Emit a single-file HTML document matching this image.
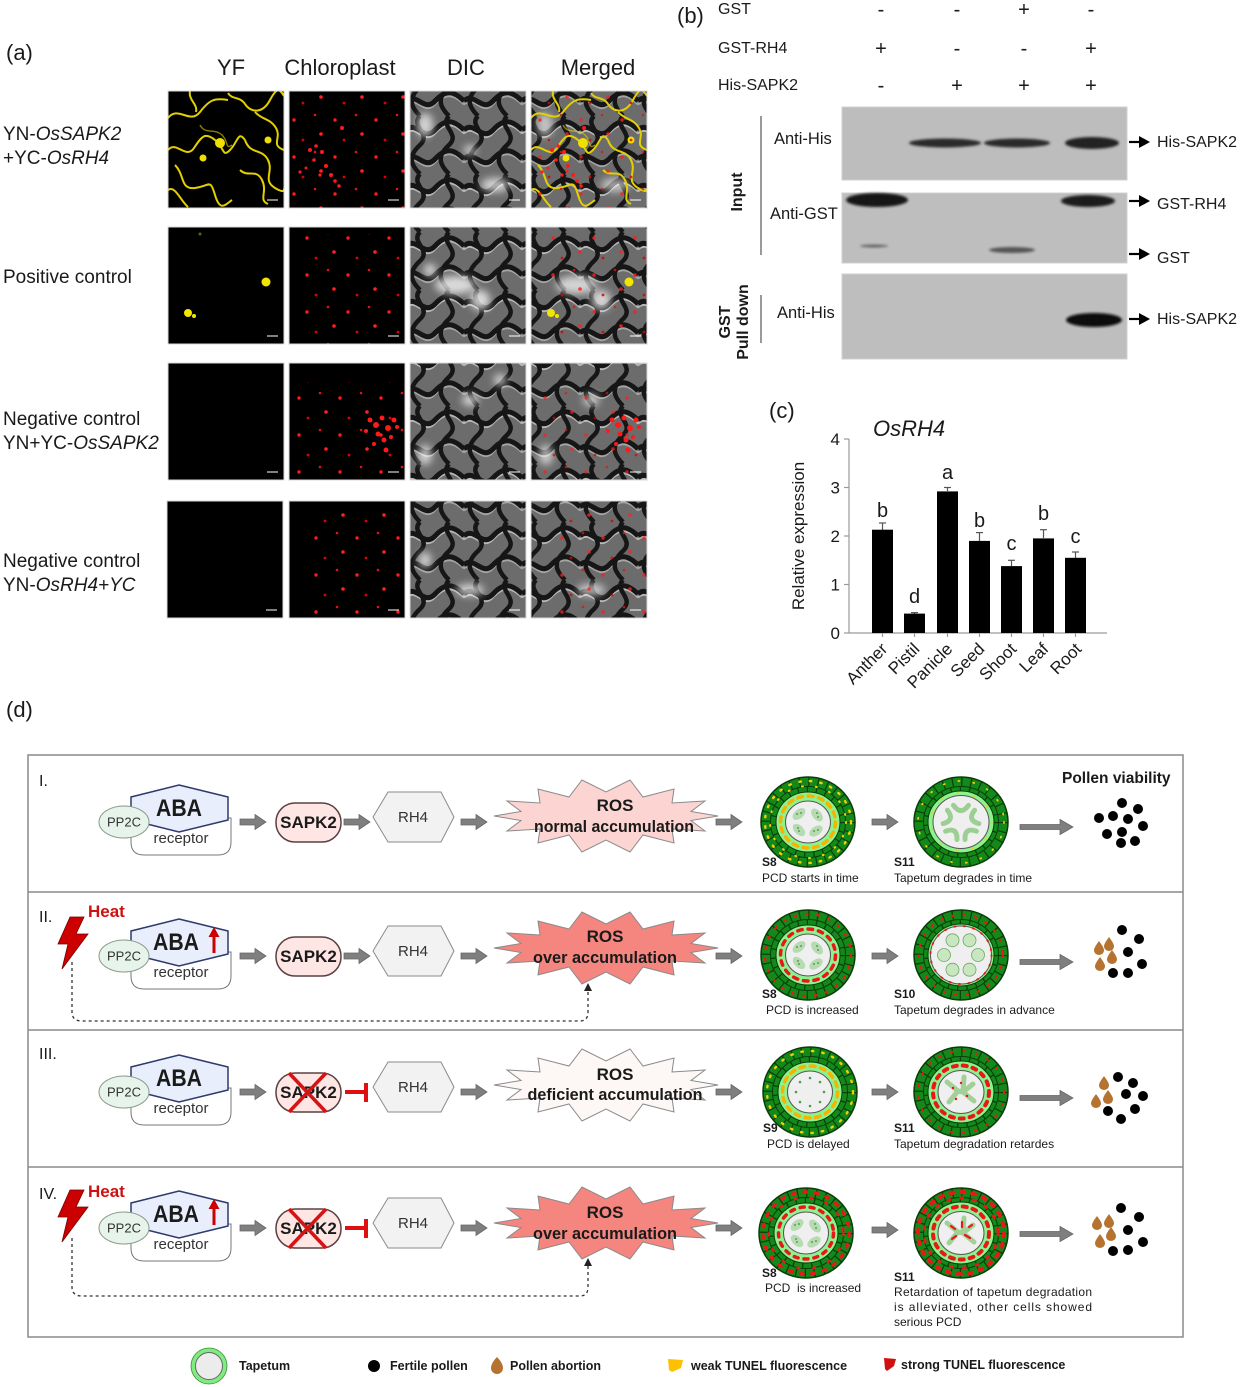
<!DOCTYPE html>
<html><head><meta charset="utf-8">
<style>
html,body{margin:0;padding:0;background:#fff;}
svg{display:block;}
text{font-family:"Liberation Sans",Arial,sans-serif;fill:#1a1a1a;}
.b{font-weight:bold;}
</style></head>
<body>
<svg width="1240" height="1387" viewBox="0 0 1240 1387" xmlns="http://www.w3.org/2000/svg">
<defs>
  <pattern id="dic" width="58" height="58" patternUnits="userSpaceOnUse">
    <rect width="58" height="58" fill="#6c6c6c"/>
    <path d="M0 14 C10 4,18 26,29 14 S48 4,58 14" stroke="#b8b8b8" stroke-width="2" fill="none" transform="translate(0,3.5)"/>
    <path d="M0 43 C10 33,18 55,29 43 S48 33,58 43" stroke="#a5a5a5" stroke-width="2" fill="none" transform="translate(0,3.5)"/>
    <path d="M0 14 C10 4,18 26,29 14 S48 4,58 14" stroke="#161616" stroke-width="5" fill="none"/>
    <path d="M0 43 C10 33,18 55,29 43 S48 33,58 43" stroke="#161616" stroke-width="5" fill="none"/>
    <path d="M14 0 C4 10,26 18,14 29 S4 48,14 58" stroke="#161616" stroke-width="4.5" fill="none"/>
    <path d="M43 0 C33 10,55 18,43 29 S33 48,43 58" stroke="#161616" stroke-width="4.5" fill="none"/>
  </pattern>
  <pattern id="chl" width="41" height="37" patternUnits="userSpaceOnUse">
    <circle cx="7" cy="9" r="1.7" fill="#ff1a1a"/>
    <circle cx="28" cy="4" r="1.3" fill="#e81010"/>
    <circle cx="34" cy="23" r="1.8" fill="#ff2020"/>
    <circle cx="16" cy="29" r="1.4" fill="#dd0000"/>
  </pattern>
  <filter id="bl" x="-20%" y="-50%" width="140%" height="200%"><feGaussianBlur stdDeviation="1.4"/></filter>
  <filter id="bl3" x="-50%" y="-50%" width="200%" height="200%"><feGaussianBlur stdDeviation="4"/></filter>
  <g id="yel" fill="none" stroke="#e3d000" stroke-width="2">
    <path d="M168,118 C178,105 190,125 200,112 S215,98 228,100"/>
    <path d="M228,93 C232,100 240,96 245,104 S262,115 270,100 S280,90 284,96"/>
    <path d="M190,91 C188,100 198,104 196,112"/>
    <path d="M168,150 C176,140 186,160 194,148 S205,132 215,140 S222,158 230,150 S238,130 245,140"/>
    <path d="M245,140 C250,155 262,148 268,160 S262,180 275,188 S284,185 284,190"/>
    <path d="M175,165 C185,175 180,190 195,188 S210,178 215,195 S225,205 232,200"/>
    <path d="M240,170 C248,178 256,168 262,180 S258,200 268,204"/>
    <path d="M168,190 C175,185 180,200 188,207"/>
    <path d="M200,125 C205,135 215,128 222,135 S225,150 232,145" stroke-width="1.4" opacity=".6"/>
    <path d="M255,112 C262,120 270,118 276,128 S270,145 284,150"/>
    <circle cx="220" cy="143" r="5" fill="#f0e000" stroke="none"/>
    <circle cx="203" cy="158" r="3.5" fill="#f0e000" stroke="none"/>
    <circle cx="268" cy="140" r="3.5" fill="#f0e000" stroke="none"/>
  </g>
  <g id="cl1" fill="#ff1a1a">
    <circle cx="310" cy="150" r="2"/><circle cx="316" cy="146" r="1.8"/><circle cx="322" cy="152" r="2"/>
    <circle cx="314" cy="160" r="1.8"/><circle cx="326" cy="166" r="2"/><circle cx="331" cy="175" r="2"/>
    <circle cx="335" cy="181" r="1.8"/><circle cx="320" cy="175" r="1.6"/><circle cx="339" cy="186" r="1.8"/>
    <circle cx="306" cy="168" r="1.5"/><circle cx="342" cy="128" r="2"/><circle cx="300" cy="172" r="1.6"/>
  </g>
  <g id="cl3" fill="#ff1a1a">
    <circle cx="370" cy="420" r="2.5"/><circle cx="376" cy="425" r="3"/><circle cx="382" cy="418" r="2.5"/>
    <circle cx="388" cy="428" r="3"/><circle cx="394" cy="420" r="2.5"/><circle cx="397" cy="427" r="2"/>
    <circle cx="378" cy="434" r="2.5"/><circle cx="384" cy="440" r="2.5"/><circle cx="374" cy="444" r="2"/>
    <circle cx="386" cy="450" r="2.5"/><circle cx="391" cy="437" r="2"/><circle cx="366" cy="431" r="2"/>
  </g>
  <path id="arr" d="M0,-3 H15 V-7.5 L26,0 L15,7.5 V3 H0 Z" fill="#7f7f7f" stroke="#666" stroke-width=".8"/>
  <path id="larr" d="M0,-2.5 H40 V-7.5 L53,0 L40,7.5 V2.5 H0 Z" fill="#7f7f7f" stroke="#666" stroke-width=".8"/>
  <polygon id="star" points="112,0 85,4.5 99,15 66,13 68,27 37,19 24,36 0,24 -24,36 -37,19 -68,27 -66,13 -99,15 -85,4.5 -112,0 -85,-4.5 -99,-15 -66,-13 -68,-27 -37,-19 -24,-36 0,-24 24,-36 37,-19 68,-27 66,-13 99,-15 85,-4.5" stroke="#8a8a8a" stroke-width="1"/>
  <g id="anthOuter">
    <ellipse rx="47" ry="45" fill="#13891a"/>
    <ellipse rx="42" ry="40" fill="none" stroke="#0a3d0a" stroke-width="9" stroke-dasharray="1.2 8"/>
    <ellipse rx="37.5" ry="35.5" fill="none" stroke="#0a3d0a" stroke-width="1"/>
    <ellipse rx="34.5" ry="32.5" fill="none" stroke="#0a3d0a" stroke-width="5" stroke-dasharray="1.2 8"/>
    <ellipse rx="47" ry="45" fill="none" stroke="#0a3d0a" stroke-width="1.5"/>
  </g>
  <g id="spores">
    <ellipse cx="-9" cy="-8" rx="7.5" ry="4.5" transform="rotate(-40 -9 -8)" fill="#b7dbb1"/>
    <ellipse cx="9" cy="-7" rx="7.5" ry="4.5" transform="rotate(50 9 -7)" fill="#b7dbb1"/>
    <ellipse cx="8" cy="9" rx="7.5" ry="4.5" transform="rotate(-35 8 9)" fill="#b7dbb1"/>
    <ellipse cx="-9" cy="8" rx="7.5" ry="4.5" transform="rotate(45 -9 8)" fill="#b7dbb1"/>
    <g fill="#3f8a3f"><circle cx="-11" cy="-8" r=".9"/><circle cx="-7" cy="-9" r=".9"/><circle cx="9" cy="-9" r=".9"/><circle cx="10" cy="-5" r=".9"/><circle cx="6" cy="9" r=".9"/><circle cx="10" cy="8" r=".9"/><circle cx="-9" cy="9" r=".9"/><circle cx="-10" cy="6" r=".9"/></g>
  </g>
  <path id="brown" d="M0,-7 C3,-3 5,0 5,2.5 A5,4.5 0 0 1 -5,2.5 C-5,0 -3,-3 0,-7Z" fill="#b5732f"/>
</defs>

<!-- ================= PANEL A ================= -->
<text x="6" y="60" font-size="22">(a)</text>
<text x="231" y="75" font-size="22" text-anchor="middle">YF</text>
<text x="340" y="75" font-size="22" text-anchor="middle">Chloroplast</text>
<text x="466" y="75" font-size="22" text-anchor="middle">DIC</text>
<text x="598" y="75" font-size="22" text-anchor="middle">Merged</text>

<text x="3" y="140" font-size="19">YN-<tspan font-style="italic">OsSAPK2</tspan></text>
<text x="3" y="164" font-size="19">+YC-<tspan font-style="italic">OsRH4</tspan></text>
<text x="3" y="283" font-size="19">Positive control</text>
<text x="3" y="425" font-size="19">Negative control</text>
<text x="3" y="449" font-size="19">YN+YC-<tspan font-style="italic">OsSAPK2</tspan></text>
<text x="3" y="567" font-size="19">Negative control</text>
<text x="3" y="591" font-size="19">YN-<tspan font-style="italic">OsRH4+YC</tspan></text>

<!-- row 1 -->
<svg x="168" y="91" width="116" height="117"><g transform="translate(-168,-91)">
  <rect x="168" y="91" width="116" height="117" fill="#000"/>
  <use href="#yel"/>
</g></svg>
<svg x="289" y="91" width="116" height="117"><g transform="translate(-289,-91)">
  <rect x="289" y="91" width="116" height="117" fill="#000"/>
  <rect x="289" y="91" width="116" height="117" fill="url(#chl)"/>
  <use href="#cl1"/>
</g></svg>
<svg x="410" y="91" width="116" height="117"><g transform="translate(-410,-91)">
  <rect x="410" y="91" width="116" height="117" fill="url(#dic)"/>
  <g filter="url(#bl3)" fill="#fff" opacity=".7"><ellipse cx="425" cy="125" rx="8" ry="12"/><ellipse cx="495" cy="185" rx="14" ry="7"/><ellipse cx="470" cy="150" rx="6" ry="5"/></g>
</g></svg>
<svg x="531" y="91" width="116" height="117"><g transform="translate(-531,-91)">
  <rect x="531" y="91" width="116" height="117" fill="url(#dic)"/>
  <g filter="url(#bl3)" fill="#fff" opacity=".6"><ellipse cx="545" cy="125" rx="8" ry="12"/><ellipse cx="615" cy="185" rx="14" ry="7"/></g>
  <g transform="translate(363,0)"><use href="#yel"/></g>
  <g transform="translate(242,0)"><use href="#cl1"/></g>
  <rect x="531" y="91" width="116" height="117" fill="url(#chl)" opacity=".8"/>
</g></svg>

<!-- row 2 -->
<svg x="168" y="227" width="116" height="117"><g transform="translate(-168,-227)">
  <rect x="168" y="227" width="116" height="117" fill="#000"/>
  <circle cx="266" cy="282" r="4.5" fill="#f2e600"/>
  <circle cx="188" cy="313" r="4" fill="#f2e600"/>
  <circle cx="194" cy="316" r="2" fill="#f2e600"/>
  <circle cx="200" cy="234" r="1.5" fill="#6a6200"/>
</g></svg>
<svg x="289" y="227" width="116" height="117"><g transform="translate(-289,-227)">
  <rect x="289" y="227" width="116" height="117" fill="#000"/>
  <rect x="289" y="227" width="116" height="117" fill="url(#chl)" transform="translate(13,7)"/>
</g></svg>
<svg x="410" y="227" width="116" height="117"><g transform="translate(-410,-227)">
  <rect x="410" y="227" width="116" height="117" fill="url(#dic)"/>
  <g filter="url(#bl3)" fill="#fff" opacity=".75"><ellipse cx="455" cy="285" rx="20" ry="9"/><ellipse cx="480" cy="300" rx="10" ry="10"/><ellipse cx="430" cy="270" rx="6" ry="6"/></g>
</g></svg>
<svg x="531" y="227" width="116" height="117"><g transform="translate(-531,-227)">
  <rect x="531" y="227" width="116" height="117" fill="url(#dic)"/>
  <g filter="url(#bl3)" fill="#fff" opacity=".7"><ellipse cx="576" cy="285" rx="20" ry="9"/><ellipse cx="601" cy="300" rx="10" ry="10"/></g>
  <rect x="531" y="227" width="116" height="117" fill="url(#chl)" transform="translate(13,7)" opacity=".85"/>
  <circle cx="629" cy="282" r="4.5" fill="#f2e600"/>
  <circle cx="551" cy="313" r="4" fill="#f2e600"/>
  <circle cx="557" cy="316" r="2" fill="#f2e600"/>
</g></svg>

<!-- row 3 -->
<rect x="168" y="363" width="116" height="117" fill="#000"/>
<svg x="289" y="363" width="116" height="117"><g transform="translate(-289,-363)">
  <rect x="289" y="363" width="116" height="117" fill="#000"/>
  <rect x="289" y="363" width="116" height="117" fill="url(#chl)" transform="translate(5,19)"/>
  <use href="#cl3"/>
</g></svg>
<svg x="410" y="363" width="116" height="117"><g transform="translate(-410,-363)">
  <rect x="410" y="363" width="116" height="117" fill="url(#dic)"/>
  <g filter="url(#bl3)" fill="#fff" opacity=".7"><ellipse cx="425" cy="455" rx="7" ry="10"/><ellipse cx="470" cy="400" rx="8" ry="6"/><ellipse cx="500" cy="380" rx="6" ry="6"/></g>
</g></svg>
<svg x="531" y="363" width="116" height="117"><g transform="translate(-531,-363)">
  <rect x="531" y="363" width="116" height="117" fill="url(#dic)"/>
  <g filter="url(#bl3)" fill="#fff" opacity=".65"><ellipse cx="546" cy="455" rx="7" ry="10"/><ellipse cx="591" cy="400" rx="8" ry="6"/></g>
  <rect x="531" y="363" width="116" height="117" fill="url(#chl)" transform="translate(5,19)" opacity=".7"/>
  <g transform="translate(242,0)"><use href="#cl3"/></g>
</g></svg>

<!-- row 4 -->
<rect x="167" y="501" width="116" height="117" fill="#000"/>
<svg x="289" y="501" width="116" height="117"><g transform="translate(-289,-501)">
  <rect x="289" y="501" width="116" height="117" fill="#000"/>
  <rect x="289" y="501" width="116" height="117" fill="url(#chl)" transform="translate(22,11)"/>
</g></svg>
<svg x="410" y="501" width="116" height="117"><g transform="translate(-410,-501)">
  <rect x="410" y="501" width="116" height="117" fill="url(#dic)"/>
  <g filter="url(#bl3)" fill="#fff" opacity=".7"><ellipse cx="470" cy="590" rx="14" ry="6"/><ellipse cx="425" cy="560" rx="6" ry="8"/></g>
</g></svg>
<svg x="531" y="501" width="116" height="117"><g transform="translate(-531,-501)">
  <rect x="531" y="501" width="116" height="117" fill="url(#dic)"/>
  <g filter="url(#bl3)" fill="#fff" opacity=".65"><ellipse cx="591" cy="590" rx="14" ry="6"/></g>
  <rect x="531" y="501" width="116" height="117" fill="url(#chl)" transform="translate(22,11)" opacity=".8"/>
</g></svg>

<g stroke="#d8d8d8" stroke-width="1" fill="none">
  <rect x="168" y="91" width="116" height="117"/><rect x="289" y="91" width="116" height="117"/><rect x="410" y="91" width="116" height="117"/><rect x="531" y="91" width="116" height="117"/>
  <rect x="168" y="227" width="116" height="117"/><rect x="289" y="227" width="116" height="117"/><rect x="410" y="227" width="116" height="117"/><rect x="531" y="227" width="116" height="117"/>
  <rect x="168" y="363" width="116" height="117"/><rect x="289" y="363" width="116" height="117"/><rect x="410" y="363" width="116" height="117"/><rect x="531" y="363" width="116" height="117"/>
  <rect x="167" y="501" width="116" height="117"/><rect x="289" y="501" width="116" height="117"/><rect x="410" y="501" width="116" height="117"/><rect x="531" y="501" width="116" height="117"/>
</g>
<g stroke="#fff" stroke-width="1">
  <line x1="267" y1="200" x2="278" y2="200"/><line x1="388" y1="200" x2="399" y2="200"/><line x1="509" y1="200" x2="520" y2="200"/><line x1="630" y1="200" x2="641" y2="200"/>
  <line x1="267" y1="336" x2="278" y2="336"/><line x1="388" y1="336" x2="399" y2="336"/><line x1="509" y1="336" x2="520" y2="336"/><line x1="630" y1="336" x2="641" y2="336"/>
  <line x1="267" y1="472" x2="278" y2="472"/><line x1="388" y1="472" x2="399" y2="472"/><line x1="509" y1="472" x2="520" y2="472"/><line x1="630" y1="472" x2="641" y2="472"/>
  <line x1="266" y1="610" x2="277" y2="610"/><line x1="388" y1="610" x2="399" y2="610"/><line x1="509" y1="610" x2="520" y2="610"/><line x1="630" y1="610" x2="641" y2="610"/>
</g>

<!-- ================= PANEL B ================= -->
<text x="677" y="23" font-size="22">(b)</text>
<text x="718" y="14" font-size="16">GST</text>
<text x="718" y="53" font-size="16">GST-RH4</text>
<text x="718" y="90" font-size="16">His-SAPK2</text>
<g font-size="20" text-anchor="middle">
  <text x="881" y="16">-</text><text x="957" y="16">-</text><text x="1024" y="16">+</text><text x="1091" y="16">-</text>
  <text x="881" y="55">+</text><text x="957" y="55">-</text><text x="1024" y="55">-</text><text x="1091" y="55">+</text>
  <text x="881" y="92">-</text><text x="957" y="92">+</text><text x="1024" y="92">+</text><text x="1091" y="92">+</text>
</g>
<rect x="842" y="107" width="285" height="73" fill="#bdbdbd" stroke="#d0d0d0"/>
<rect x="842" y="193" width="285" height="70" fill="#bebebe" stroke="#d0d0d0"/>
<rect x="842" y="274" width="285" height="85" fill="#bebebe" stroke="#d0d0d0"/>
<g filter="url(#bl)">
  <ellipse cx="945" cy="143" rx="36" ry="4.5" fill="#2a2a2a"/>
  <ellipse cx="1017" cy="143" rx="33" ry="4.5" fill="#2a2a2a"/>
  <ellipse cx="1092" cy="143" rx="27" ry="6" fill="#222"/>
  <ellipse cx="877" cy="200" rx="31" ry="7" fill="#151515"/>
  <ellipse cx="1088" cy="201" rx="27" ry="6" fill="#1a1a1a"/>
  <ellipse cx="1012" cy="250" rx="23" ry="3" fill="#555"/>
  <ellipse cx="874" cy="246" rx="14" ry="1.5" fill="#666"/>
  <ellipse cx="1094" cy="320" rx="28" ry="7" fill="#111"/>
</g>
<line x1="761" y1="116" x2="761" y2="255" stroke="#333" stroke-width="1"/>
<line x1="761" y1="295" x2="761" y2="343" stroke="#333" stroke-width="1"/>
<text class="b" font-size="16" text-anchor="middle" transform="translate(742,192) rotate(-90)">Input</text>
<text class="b" font-size="16" text-anchor="middle" transform="translate(730,322) rotate(-90)">GST</text>
<text class="b" font-size="16" text-anchor="middle" transform="translate(748,322) rotate(-90)">Pull down</text>
<text x="774" y="144" font-size="16.5">Anti-His</text>
<text x="770" y="219" font-size="16.5">Anti-GST</text>
<text x="777" y="318" font-size="16.5">Anti-His</text>
<g stroke="#000" stroke-width="2.2"><line x1="1129" y1="142" x2="1142" y2="142"/><line x1="1129" y1="201" x2="1142" y2="201"/><line x1="1129" y1="254" x2="1142" y2="254"/><line x1="1129" y1="319" x2="1142" y2="319"/></g>
<g fill="#000"><polygon points="1139,136 1150,142 1139,148"/><polygon points="1139,195 1150,201 1139,207"/><polygon points="1139,248 1150,254 1139,260"/><polygon points="1139,313 1150,319 1139,325"/></g>
<text x="1157" y="147" font-size="16">His-SAPK2</text>
<text x="1157" y="209" font-size="16">GST-RH4</text>
<text x="1157" y="263" font-size="16">GST</text>
<text x="1157" y="324" font-size="16">His-SAPK2</text>

<!-- ================= PANEL C ================= -->
<text x="769" y="418" font-size="22">(c)</text>
<text x="873" y="436" font-size="22" font-style="italic">OsRH4</text>
<text font-size="17" text-anchor="middle" transform="translate(804,536) rotate(-90)">Relative expression</text>
<g font-size="17" text-anchor="end">
  <text x="840" y="445">4</text><text x="840" y="493.5">3</text><text x="840" y="542">2</text><text x="840" y="590.5">1</text><text x="840" y="639">0</text>
</g>
<g stroke="#9a9a9a" stroke-width="1.2">
  <line x1="849" y1="439" x2="849" y2="633"/>
  <line x1="849" y1="633" x2="1107" y2="633"/>
  <line x1="844" y1="439" x2="849" y2="439"/><line x1="844" y1="487.5" x2="849" y2="487.5"/><line x1="844" y1="536" x2="849" y2="536"/><line x1="844" y1="584.5" x2="849" y2="584.5"/><line x1="844" y1="633" x2="849" y2="633"/>
  <line x1="882.5" y1="633" x2="882.5" y2="637"/><line x1="914.5" y1="633" x2="914.5" y2="637"/><line x1="947.5" y1="633" x2="947.5" y2="637"/><line x1="979.5" y1="633" x2="979.5" y2="637"/><line x1="1011.5" y1="633" x2="1011.5" y2="637"/><line x1="1043.5" y1="633" x2="1043.5" y2="637"/><line x1="1075.5" y1="633" x2="1075.5" y2="637"/>
</g>
<g stroke="#555" stroke-width="1.2">
  <line x1="882.5" y1="530" x2="882.5" y2="523"/><line x1="879" y1="523" x2="886" y2="523"/>
  <line x1="914.5" y1="614" x2="914.5" y2="612.6"/><line x1="911" y1="612.6" x2="918" y2="612.6"/>
  <line x1="947.5" y1="491" x2="947.5" y2="487.5"/><line x1="944" y1="487.5" x2="951" y2="487.5"/>
  <line x1="979.5" y1="541" x2="979.5" y2="532.6"/><line x1="976" y1="532.6" x2="983" y2="532.6"/>
  <line x1="1011.5" y1="566" x2="1011.5" y2="560.3"/><line x1="1008" y1="560.3" x2="1015" y2="560.3"/>
  <line x1="1043.5" y1="538" x2="1043.5" y2="529.7"/><line x1="1040" y1="529.7" x2="1047" y2="529.7"/>
  <line x1="1075.5" y1="558" x2="1075.5" y2="552"/><line x1="1072" y1="552" x2="1079" y2="552"/>
</g>
<g fill="#000">
  <rect x="872" y="529.7" width="21" height="103.3"/>
  <rect x="904" y="613.6" width="21" height="19.4"/>
  <rect x="937" y="491.4" width="21" height="141.6"/>
  <rect x="969" y="540.9" width="21" height="92.1"/>
  <rect x="1001" y="566.1" width="21" height="66.9"/>
  <rect x="1033" y="538.4" width="21" height="94.6"/>
  <rect x="1065" y="557.8" width="21" height="75.2"/>
</g>
<g font-size="20" text-anchor="middle">
  <text x="882.5" y="517">b</text><text x="914.5" y="603">d</text><text x="947.5" y="479">a</text><text x="979.5" y="527">b</text><text x="1011.5" y="550">c</text><text x="1043.5" y="520">b</text><text x="1075.5" y="543">c</text>
</g>
<g font-size="17" text-anchor="end">
  <text transform="translate(888.5,650) rotate(-45)">Anther</text>
  <text transform="translate(920.5,650) rotate(-45)">Pistil</text>
  <text transform="translate(953.5,650) rotate(-45)">Panicle</text>
  <text transform="translate(985.5,650) rotate(-45)">Seed</text>
  <text transform="translate(1017.5,650) rotate(-45)">Shoot</text>
  <text transform="translate(1049.5,650) rotate(-45)">Leaf</text>
  <text transform="translate(1082.5,650) rotate(-45)">Root</text>
</g>

<!-- ================= PANEL D ================= -->
<text x="6" y="717" font-size="22">(d)</text>
<rect x="28" y="755" width="1155" height="582" fill="none" stroke="#8a8a8a" stroke-width="1.5"/>
<g stroke="#8a8a8a" stroke-width="1.5"><line x1="28" y1="892" x2="1183" y2="892"/><line x1="28" y1="1030" x2="1183" y2="1030"/><line x1="28" y1="1167" x2="1183" y2="1167"/></g>

<text x="39" y="786" font-size="16">I.</text>
<text x="39" y="922" font-size="16">II.</text>
<text x="39" y="1059" font-size="16">III.</text>
<text x="39" y="1199" font-size="16">IV.</text>
<text x="1062" y="783" font-size="15.5" class="b">Pollen viability</text>

<!-- heat -->
<text x="88" y="917" font-size="17" class="b" style="fill:#cc1111">Heat</text>
<text x="88" y="1197" font-size="17" class="b" style="fill:#cc1111">Heat</text>
<polygon points="70,917 84,917 76,934 88,934 62,969 68,944 58,944" fill="#cc0000" stroke="#7a0000" stroke-width=".8"/>
<polygon points="70,1190 84,1190 76,1207 88,1207 62,1242 68,1217 58,1217" fill="#cc0000" stroke="#7a0000" stroke-width=".8"/>
<g fill="none" stroke="#333" stroke-width="1.3" stroke-dasharray="3 3">
  <path d="M72,962 V1012 Q72,1021 82,1021 H580 Q588,1021 588,1012 V990"/>
  <path d="M72,1238 V1287 Q72,1296 82,1296 H580 Q588,1296 588,1287 V1265"/>
</g>
<polygon points="584,991 592,991 588,983" fill="#222"/>
<polygon points="584,1266 592,1266 588,1258" fill="#222"/>

<!-- four pathway rows -->
<g id="rowI">
  <path d="M131,818 H231 V842 Q231,855 218,855 H144 Q131,855 131,842 Z" fill="#fff" stroke="#777" stroke-width="1"/>
  <polygon points="179,785 228,797 228,820 179,832 131,820 131,797" fill="#e8eefc" stroke="#2e3a6e" stroke-width="1.5"/>
  <text x="181" y="843" font-size="15" text-anchor="middle" style="fill:#333">receptor</text>
  <ellipse cx="124" cy="822" rx="25" ry="16" fill="#e6f4ec" stroke="#8a9a8a" stroke-width="1"/>
  <text x="124" y="826.5" font-size="13" text-anchor="middle" style="fill:#333">PP2C</text>
  <use href="#arr" x="240" y="822"/>
  <rect x="276" y="803" width="65" height="39" rx="19" fill="#fde6e3" stroke="#5a4040" stroke-width="1.5"/>
  <use href="#arr" x="344" y="822"/>
  <polygon points="373,817 388,792 441,792 454,817 441,842 388,842" fill="#f2f2f2" stroke="#8a8a8a" stroke-width="1"/>
  <text x="413" y="822" font-size="15" text-anchor="middle" style="fill:#333">RH4</text>
  <use href="#arr" x="461" y="822"/>
  <use href="#arr" x="716" y="822"/>
</g>
<g transform="translate(0,134)"><use href="#rowI"/></g>
<g transform="translate(0,270)"><use href="#rowI"/></g>
<g transform="translate(0,406)"><use href="#rowI"/></g>

<!-- ABA texts -->
<text x="179" y="816" font-size="24" class="b" text-anchor="middle" textLength="46" lengthAdjust="spacingAndGlyphs">ABA</text>
<text x="176" y="950" font-size="24" class="b" text-anchor="middle" textLength="46" lengthAdjust="spacingAndGlyphs">ABA</text>
<text x="179" y="1086" font-size="24" class="b" text-anchor="middle" textLength="46" lengthAdjust="spacingAndGlyphs">ABA</text>
<text x="176" y="1222" font-size="24" class="b" text-anchor="middle" textLength="46" lengthAdjust="spacingAndGlyphs">ABA</text>
<g stroke="#cc0000" stroke-width="3"><line x1="214" y1="953" x2="214" y2="935"/><line x1="214" y1="1225" x2="214" y2="1207"/></g>
<polygon points="208.5,937 219.5,937 214,927" fill="#cc0000"/>
<polygon points="208.5,1209 219.5,1209 214,1199" fill="#cc0000"/>

<!-- SAPK2 texts -->
<text x="308.5" y="828" font-size="17" class="b" text-anchor="middle">SAPK2</text>
<text x="308.5" y="962" font-size="17" class="b" text-anchor="middle">SAPK2</text>
<text x="308.5" y="1098" font-size="17" class="b" text-anchor="middle">SAPK2</text>
<text x="308.5" y="1234" font-size="17" class="b" text-anchor="middle">SAPK2</text>
<rect x="342" y="1082" width="30" height="22" fill="#fff"/>
<rect x="342" y="1218" width="30" height="22" fill="#fff"/>
<g stroke="#d41414" stroke-width="3.5">
  <line x1="289" y1="1073" x2="326" y2="1112"/><line x1="326" y1="1073" x2="289" y2="1112"/>
  <line x1="289" y1="1209" x2="326" y2="1248"/><line x1="326" y1="1209" x2="289" y2="1248"/>
</g>
<g stroke="#e01010" stroke-width="4">
  <line x1="345" y1="1092" x2="366" y2="1092"/><line x1="366" y1="1083" x2="366" y2="1102"/>
  <line x1="345" y1="1228" x2="366" y2="1228"/><line x1="366" y1="1219" x2="366" y2="1238"/>
</g>

<!-- ROS stars -->
<use href="#star" x="606" y="816" fill="#fcd5d3"/>
<use href="#star" x="606" y="948" fill="#f4857f"/>
<use href="#star" x="606" y="1085" fill="#fdf7f5"/>
<use href="#star" x="606" y="1223" fill="#f4857f"/>
<g class="b" font-size="17" text-anchor="middle">
  <text x="615" y="811" class="b">ROS</text>
  <text x="614" y="832" class="b" textLength="160" lengthAdjust="spacingAndGlyphs">normal accumulation</text>
  <text x="605" y="942" class="b">ROS</text>
  <text x="605" y="963" class="b" textLength="144" lengthAdjust="spacingAndGlyphs">over accumulation</text>
  <text x="615" y="1080" class="b">ROS</text>
  <text x="615" y="1100" class="b" textLength="175" lengthAdjust="spacingAndGlyphs">deficient accumulation</text>
  <text x="605" y="1218" class="b">ROS</text>
  <text x="605" y="1239" class="b" textLength="144" lengthAdjust="spacingAndGlyphs">over accumulation</text>
</g>

<!-- anther arrows -->
<use href="#arr" x="872" y="822"/>
<use href="#arr" x="872" y="956"/>
<use href="#arr" x="872" y="1092"/>
<use href="#arr" x="872" y="1230"/>
<use href="#larr" x="1020" y="827"/>
<use href="#larr" x="1020" y="962"/>
<use href="#larr" x="1020" y="1098"/>
<use href="#larr" x="1020" y="1234"/>

<!-- Anthers row I -->
<g transform="translate(808,822)">
  <use href="#anthOuter"/>
  <ellipse rx="43" ry="41" fill="none" stroke="#f2cf00" stroke-width="2.4" stroke-dasharray="1.5 9" stroke-linecap="round"/>
  <ellipse rx="38" ry="36" fill="none" stroke="#f2cf00" stroke-width="2" stroke-dasharray="1 13" stroke-linecap="round"/>
  <ellipse rx="32" ry="30" fill="#8ef28e" stroke="#0a3d0a" stroke-width="1"/>
  <ellipse rx="27.5" ry="26" fill="none" stroke="#f5b400" stroke-width="3.5" stroke-dasharray="5 5.5" stroke-linecap="round"/>
  <ellipse rx="22.5" ry="21" fill="#efefef" stroke="#555" stroke-width="1"/>
  <use href="#spores"/>
</g>
<g transform="translate(961,822)">
  <use href="#anthOuter"/>
  <ellipse rx="43" ry="41" fill="none" stroke="#f2cf00" stroke-width="1.8" stroke-dasharray="1 14" stroke-linecap="round"/>
  <ellipse rx="33" ry="31" fill="#8ef28e" stroke="#0a3d0a" stroke-width="1"/>
  <ellipse rx="30.5" ry="29" fill="none" stroke="#f2cf00" stroke-width="1.5" stroke-dasharray="1 16" stroke-linecap="round"/>
  <ellipse rx="28" ry="26.5" fill="#efefef" stroke="#555" stroke-width="1"/>
  <g fill="none" stroke="#9dcf94" stroke-width="5" stroke-linecap="round">
    <path d="M-7.5,-16.7 Q0,-6 7.5,-16.7"/>
    <path d="M17.9,1.6 Q5.7,-1.8 13.6,-11.8"/>
    <path d="M4,17.5 Q3.5,4.8 15.4,9.2"/>
    <path d="M-15.4,9.2 Q-3.5,4.8 -4,17.5"/>
    <path d="M-13.6,-11.8 Q-5.7,-1.8 -17.9,1.6"/>
  </g>
</g>

<!-- Anthers row II -->
<g transform="translate(808,955)">
  <use href="#anthOuter"/>
  <ellipse rx="43" ry="41" fill="none" stroke="#e81818" stroke-width="2.4" stroke-dasharray="1.5 10" stroke-linecap="round"/>
  <ellipse rx="32" ry="30" fill="#8ef28e" stroke="#0a3d0a" stroke-width="1"/>
  <ellipse rx="27.5" ry="26" fill="none" stroke="#e81818" stroke-width="3.5" stroke-dasharray="4.5 6" stroke-linecap="round"/>
  <ellipse rx="22.5" ry="21" fill="#efefef" stroke="#555" stroke-width="1"/>
  <use href="#spores"/>
</g>
<g transform="translate(961,955)">
  <use href="#anthOuter"/>
  <ellipse rx="42" ry="40" fill="none" stroke="#e81818" stroke-width="2.2" stroke-dasharray="1.5 10" stroke-linecap="round"/>
  <ellipse rx="33" ry="31" fill="#8ef28e" stroke="#0a3d0a" stroke-width="1"/>
  <ellipse rx="30.5" ry="29" fill="#efefef" stroke="#555" stroke-width="1"/>
  <ellipse rx="30.5" ry="29" fill="none" stroke="#e81818" stroke-width="1.8" stroke-dasharray="1.5 8" stroke-linecap="round"/>
  <g fill="#c8e6c0" stroke="#6ea866" stroke-width=".8">
    <circle cx="17" cy="0" r="6.5"/><circle cx="8.5" cy="14.7" r="6.5"/><circle cx="-8.5" cy="14.7" r="6.5"/>
    <circle cx="-17" cy="0" r="6.5"/><circle cx="-8.5" cy="-14.7" r="6.5"/><circle cx="8.5" cy="-14.7" r="6.5"/>
  </g>
</g>

<!-- Anthers row III -->
<g transform="translate(810,1092)">
  <use href="#anthOuter"/>
  <ellipse rx="43" ry="41" fill="none" stroke="#f2cf00" stroke-width="2.4" stroke-dasharray="1.5 9" stroke-linecap="round"/>
  <ellipse rx="32" ry="30" fill="#8ef28e" stroke="#0a3d0a" stroke-width="1"/>
  <ellipse rx="27.5" ry="26" fill="none" stroke="#f5b400" stroke-width="3.5" stroke-dasharray="5 5.5" stroke-linecap="round"/>
  <ellipse rx="22.5" ry="21" fill="#efefef" stroke="#555" stroke-width="1"/>
  <g fill="#4f9a4f"><circle cx="0" cy="-14" r="1.3"/><circle cx="10" cy="-10" r="1.3"/><circle cx="14" cy="0" r="1.3"/><circle cx="10" cy="10" r="1.3"/><circle cx="0" cy="14" r="1.3"/><circle cx="-10" cy="10" r="1.3"/><circle cx="-14" cy="0" r="1.3"/><circle cx="-10" cy="-10" r="1.3"/></g>
</g>
<g transform="translate(961,1092)">
  <use href="#anthOuter"/>
  <ellipse rx="43" ry="41" fill="none" stroke="#e81818" stroke-width="2" stroke-dasharray="1.5 11" stroke-linecap="round"/>
  <ellipse rx="33" ry="31" fill="#8ef28e" stroke="#0a3d0a" stroke-width="1"/>
  <ellipse rx="28" ry="26.5" fill="none" stroke="#e81818" stroke-width="4" stroke-dasharray="4 6" stroke-linecap="round"/>
  <ellipse rx="23" ry="21.5" fill="#efefef" stroke="#555" stroke-width="1"/>
  <g fill="none" stroke="#a2d198" stroke-width="5" stroke-linecap="round">
    <path d="M-14,-10 L-3,-1 L-12,10 M3,-15 L2,0 L13,9 M-3,-1 L2,0 M12,-8 L2,0"/>
  </g>
  <g fill="#e81818"><circle cx="-8" cy="-4" r="1.2"/><circle cx="6" cy="4" r="1.2"/><circle cx="0" cy="-9" r="1.2"/><circle cx="-5" cy="7" r="1.2"/></g>
</g>

<!-- Anthers row IV -->
<g transform="translate(806,1233)">
  <use href="#anthOuter"/>
  <ellipse rx="43" ry="41" fill="none" stroke="#e81818" stroke-width="3.5" stroke-dasharray="2.5 9" stroke-linecap="round"/>
  <ellipse rx="37.5" ry="35.5" fill="none" stroke="#e81818" stroke-width="2.5" stroke-dasharray="2 14" stroke-linecap="round"/>
  <ellipse rx="32" ry="30" fill="#8ef28e" stroke="#0a3d0a" stroke-width="1"/>
  <ellipse rx="27.5" ry="26" fill="none" stroke="#e81818" stroke-width="3.5" stroke-dasharray="4 6" stroke-linecap="round"/>
  <ellipse rx="22.5" ry="21" fill="#efefef" stroke="#555" stroke-width="1"/>
  <use href="#spores"/>
</g>
<g transform="translate(961,1233)">
  <use href="#anthOuter"/>
  <ellipse rx="43" ry="41" fill="none" stroke="#e81818" stroke-width="4" stroke-dasharray="3 8" stroke-linecap="round"/>
  <ellipse rx="37" ry="35" fill="none" stroke="#e81818" stroke-width="3" stroke-dasharray="2 11" stroke-linecap="round"/>
  <ellipse rx="33" ry="31" fill="#8ef28e" stroke="#0a3d0a" stroke-width="1"/>
  <ellipse rx="28" ry="26.5" fill="none" stroke="#e81818" stroke-width="4" stroke-dasharray="4 6" stroke-linecap="round"/>
  <ellipse rx="23" ry="21.5" fill="#efefef" stroke="#555" stroke-width="1"/>
  <g fill="none" stroke="#a2d198" stroke-width="5" stroke-linecap="round">
    <path d="M-14,-10 L-3,-1 L-12,10 M3,-15 L2,0 L13,9 M-3,-1 L2,0 M12,-8 L2,0"/>
  </g>
  <g stroke="#e81818" stroke-width="2.2" stroke-linecap="round"><line x1="-10" y1="-7" x2="-6" y2="-4"/><line x1="4" y1="2" x2="9" y2="5"/><line x1="1" y1="-11" x2="1" y2="-6"/><line x1="-9" y1="6" x2="-5" y2="3"/><line x1="8" y1="-6" x2="11" y2="-8"/></g>
</g>

<!-- captions -->
<g font-size="12">
  <text x="762" y="866" class="b">S8</text><text x="762" y="882">PCD starts in time</text>
  <text x="894" y="866" class="b">S11</text><text x="894" y="882">Tapetum degrades in time</text>
  <text x="762" y="998" class="b">S8</text><text x="766" y="1014">PCD is increased</text>
  <text x="894" y="998" class="b">S10</text><text x="894" y="1014">Tapetum degrades in advance</text>
  <text x="763" y="1132" class="b">S9</text><text x="767" y="1148">PCD is delayed</text>
  <text x="894" y="1132" class="b">S11</text><text x="894" y="1148">Tapetum degradation retardes</text>
  <text x="762" y="1277" class="b">S8</text><text x="765" y="1292" xml:space="preserve">PCD  is increased</text>
  <text x="894" y="1281" class="b">S11</text>
  <text x="894" y="1296" textLength="198" lengthAdjust="spacing">Retardation of tapetum degradation</text>
  <text x="894" y="1311" textLength="198" lengthAdjust="spacing">is alleviated, other cells showed</text>
  <text x="894" y="1326">serious PCD</text>
</g>

<!-- pollen -->
<g fill="#000">
  <circle cx="1122" cy="803" r="5"/><circle cx="1138" cy="809" r="5"/><circle cx="1099" cy="818" r="5"/><circle cx="1113" cy="816" r="5"/><circle cx="1128" cy="819" r="5"/><circle cx="1143" cy="826" r="5"/><circle cx="1107" cy="834" r="5"/><circle cx="1122" cy="832" r="5"/><circle cx="1135" cy="841" r="5"/><circle cx="1121" cy="843" r="5"/>
  <circle cx="1122" cy="930" r="5"/><circle cx="1139" cy="939" r="5"/><circle cx="1128" cy="952" r="5"/><circle cx="1142" cy="964" r="5"/><circle cx="1113" cy="973" r="5"/><circle cx="1128" cy="973" r="5"/>
  <circle cx="1118" cy="1077" r="5"/><circle cx="1133" cy="1083" r="5"/><circle cx="1126" cy="1094" r="5"/><circle cx="1143" cy="1096" r="5"/><circle cx="1108" cy="1111" r="5"/><circle cx="1135" cy="1109" r="5"/><circle cx="1121" cy="1119" r="5"/>
  <circle cx="1121" cy="1208" r="5"/><circle cx="1139" cy="1217" r="5"/><circle cx="1128" cy="1230" r="5"/><circle cx="1143" cy="1242" r="5"/><circle cx="1113" cy="1251" r="5"/><circle cx="1128" cy="1250" r="5"/>
</g>
<use href="#brown" x="1099" y="948"/><use href="#brown" x="1109" y="944"/><use href="#brown" x="1112" y="957"/><use href="#brown" x="1100" y="964"/>
<use href="#brown" x="1104" y="1083"/><use href="#brown" x="1096" y="1101"/><use href="#brown" x="1108" y="1097"/>
<use href="#brown" x="1097" y="1223"/><use href="#brown" x="1109" y="1221"/><use href="#brown" x="1111" y="1234"/><use href="#brown" x="1100" y="1241"/>

<!-- legend -->
<circle cx="209" cy="1366" r="18" fill="#80ec80" stroke="#3a8a3a" stroke-width=".8"/>
<circle cx="209" cy="1366" r="13.5" fill="#ececec" stroke="#666" stroke-width="1"/>
<g font-size="12.5" class="b">
  <text x="239" y="1370" class="b">Tapetum</text>
  <text x="390" y="1370" class="b">Fertile pollen</text>
  <text x="510" y="1370" class="b">Pollen abortion</text>
  <text x="691" y="1370" class="b">weak TUNEL fluorescence</text>
  <text x="901" y="1369" class="b">strong TUNEL fluorescence</text>
</g>
<circle cx="374" cy="1366" r="6" fill="#000"/>
<path d="M497,1357 C501,1361 503,1365 503,1368 A6,6 0 0 1 491,1368 C491,1365 493,1361 497,1357Z" fill="#b5732f"/>
<path d="M668,1359 L683,1360 L681,1368 L672,1372 L669,1370 Z" fill="#ffc000"/>
<path d="M884,1358 L896,1359 L894,1366 L887,1371 L885,1369 Z" fill="#d01010"/>
</svg>
</body></html>
